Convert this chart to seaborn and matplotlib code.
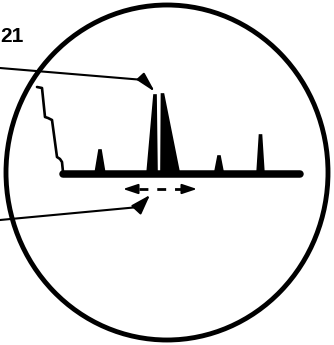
import matplotlib
matplotlib.use("Agg")
import matplotlib.pyplot as plt
import seaborn as sns
from matplotlib.patches import Ellipse, Polygon

sns.set_style("white")
plt.rcParams['font.family'] = ['Liberation Sans', 'DejaVu Sans']

W, H = 334, 345

# descending front of the trace (image pixel coords, y down)
front_x = [37, 42, 45, 48, 52, 57, 60, 62, 63, 66]
front_y = [87, 88, 117, 118, 120, 157, 159, 162, 172, 174]

# baseline of the trace
base_x = [63, 300]
base_y = [174, 174]

# peaks: centre, top, left half-width, right half-width
peak_c = [100, 155, 162.5, 219, 260.5]
peak_top = [150, 95, 94, 156, 135]
peak_lw = [5, 8, 1.5, 4.5, 3.5]
peak_rw = [5, 2, 17, 4.5, 3.5]
BASE = 174

fig = plt.figure(figsize=(W / 100, H / 100), dpi=100)
ax = fig.add_axes([0, 0, 1, 1])
ax.set_xlim(0, W)
ax.set_ylim(H, 0)
ax.axis('off')

# circle (view)
ax.add_patch(Ellipse((167, 172.5), 322, 335, fill=False, lw=3.5, ec='black'))

# trace
sns.lineplot(x=front_x, y=front_y, sort=False, estimator=None, ax=ax,
             color='black', lw=1.9)
sns.lineplot(x=base_x, y=base_y, sort=False, estimator=None, ax=ax,
             color='black', lw=5.4)
for c, t, l, r in zip(peak_c, peak_top, peak_lw, peak_rw):
    ax.add_patch(Polygon([(c - l, BASE), (c - 1, t), (c + 1, t), (c + r, BASE)],
                         closed=True, fc='black', ec='black', lw=1.2))

# leader 1
ax.plot([0, 144], [68, 80], color='black', lw=1.5)
ax.annotate('', xy=(155, 92), xytext=(143, 79),
            arrowprops=dict(arrowstyle='-|>,head_length=1.2,head_width=0.3',
                            color='black', lw=1.5, shrinkA=0, shrinkB=0))
# leader 2
ax.plot([0, 139], [220, 207], color='black', lw=1.5)
ax.annotate('', xy=(150, 195), xytext=(138, 208),
            arrowprops=dict(arrowstyle='-|>,head_length=1.2,head_width=0.4',
                            color='black', lw=1.5, shrinkA=0, shrinkB=0))

# dashed double arrow
ln, = ax.plot([139, 181], [189, 189], color='black', lw=2.0)
ln.set_dashes((3.2, 3.2))
ax.annotate('', xy=(123, 189), xytext=(135, 189),
            arrowprops=dict(arrowstyle='-|>,head_length=0.9,head_width=0.3',
                            color='black', lw=1.4, shrinkA=0, shrinkB=0))
ax.annotate('', xy=(197, 189), xytext=(185, 189),
            arrowprops=dict(arrowstyle='-|>,head_length=0.9,head_width=0.3',
                            color='black', lw=1.4, shrinkA=0, shrinkB=0))

ax.text(0.5, 36, '21', ha='left', va='center', fontsize=15, fontweight='bold',
        color='black',
        family=['Liberation Sans Narrow', 'Liberation Sans', 'DejaVu Sans'])

fig.savefig('out.png', dpi=100)
